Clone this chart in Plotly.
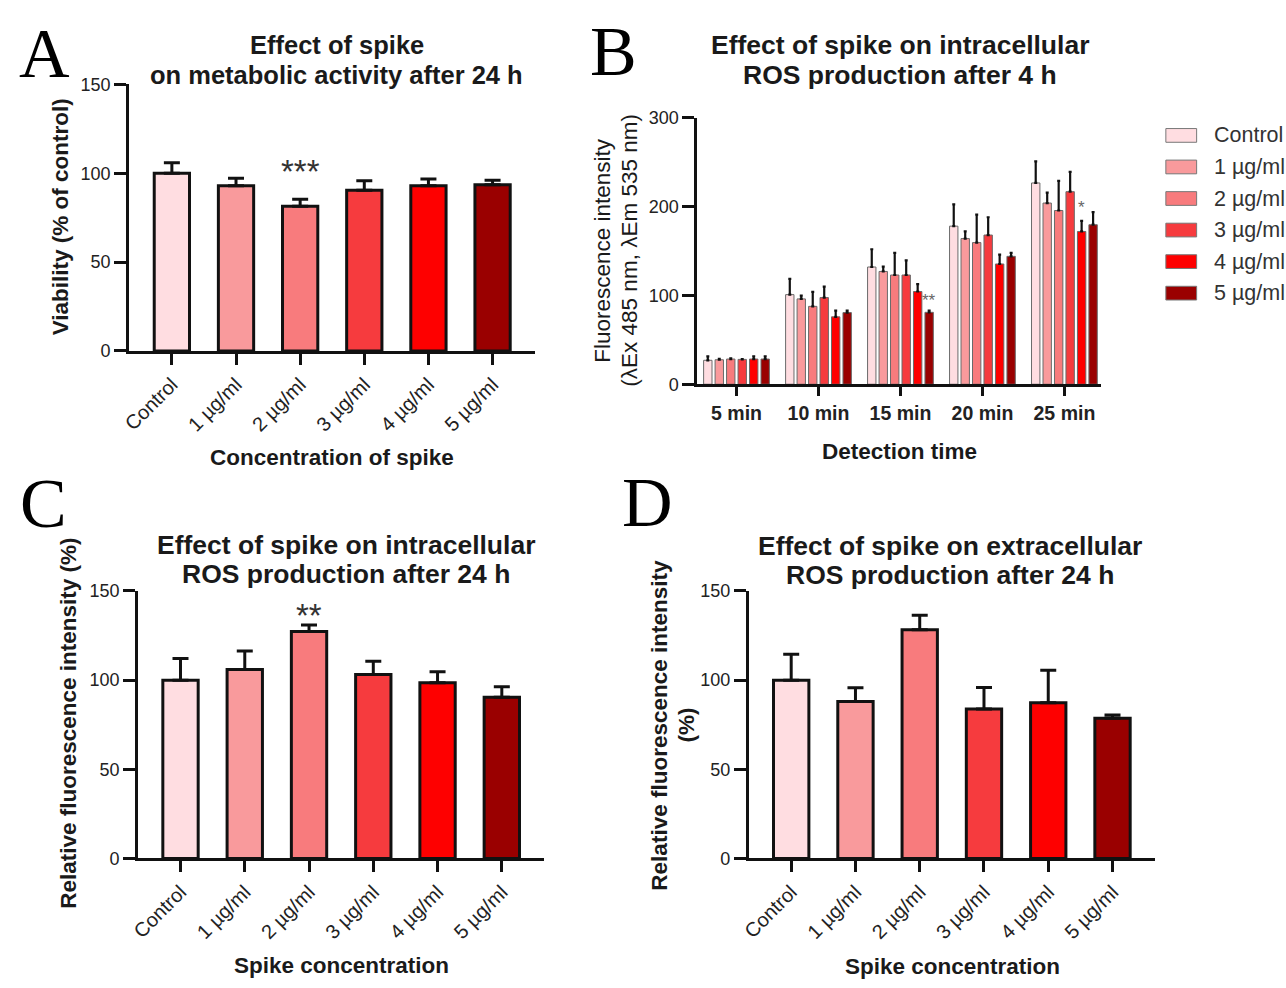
import plotly.graph_objects as go

W, H = 1286, 988

# ---------------- data ----------------
concentrations = ["Control", "1 µg/ml", "2 µg/ml", "3 µg/ml", "4 µg/ml", "5 µg/ml"]
colors = ["#FFDDE1", "#F99A9C", "#F87B7D", "#F63B3E", "#FE0000", "#9A0000"]

# A: viability (% of control)
a_mean = [100, 93, 81.5, 90.5, 93, 93.5]
a_err = [6, 4.2, 3.9, 5.3, 3.8, 2.6]

# B: intracellular ROS after 4 h, by detection time
times = ["5 min", "10 min", "15 min", "20 min", "25 min"]
b_mean = {
    "Control": [27, 100.9, 132, 178, 226.6],
    "1 µg/ml": [27.6, 96.1, 127, 164, 204],
    "2 µg/ml": [28.4, 87.7, 123, 159.5, 195.6],
    "3 µg/ml": [28, 97.6, 123, 168, 216.8],
    "4 µg/ml": [28.4, 75.9, 104.4, 135.4, 172],
    "5 µg/ml": [28.4, 80.7, 81, 144, 179.6],
}
b_err = {
    "Control": [4.4, 17.7, 20, 24.5, 24.4],
    "1 µg/ml": [1.1, 3.7, 5.5, 8, 11.7],
    "2 µg/ml": [0.8, 16.2, 25, 31.5, 33.4],
    "3 µg/ml": [0.4, 12.4, 16.4, 20, 22.2],
    "4 µg/ml": [2.9, 7, 8.4, 10.6, 12],
    "5 µg/ml": [2.9, 2.2, 2, 4, 14.2],
}

# C: intracellular ROS after 24 h (%)
c_mean = [100, 106, 127.3, 103.2, 98.5, 90.4]
c_err = [12.2, 10.4, 3.7, 7.4, 6.2, 5.9]

# D: extracellular ROS after 24 h (%)
d_mean = [100, 88, 128.2, 83.8, 87.3, 78.7]
d_err = [14.5, 7.7, 8.2, 12.1, 18.2, 1.8]

# ---------------- helpers ----------------
def px(x):
    return x / W

def py(y):
    return 1 - y / H

SANS = "Liberation Sans, Arial, sans-serif"
SERIF = "Liberation Serif, Times New Roman, serif"
BARGAP = 0.16
NSER = len(concentrations)

fig = go.Figure()

def single_panel(xa, ya, means, errs):
    fig.add_trace(go.Bar(
        x=concentrations, y=means, xaxis=xa, yaxis=ya,
        width=[0.55] * len(means),
        marker=dict(color=colors, line=dict(color="#111111", width=3)),
        error_y=dict(type="data", symmetric=False, array=errs,
                     arrayminus=[0] * len(errs), thickness=3, width=8,
                     color="#111111"),
        showlegend=False, hoverinfo="x+y",
    ))

single_panel("x", "y", a_mean, a_err)
single_panel("x3", "y3", c_mean, c_err)
single_panel("x4", "y4", d_mean, d_err)

for name, col in zip(concentrations, colors):
    fig.add_trace(go.Bar(
        x=times, y=b_mean[name], name=name, xaxis="x2", yaxis="y2",
        marker=dict(color=col, line=dict(color="#6a6a6a", width=1)),
        error_y=dict(type="data", symmetric=False, array=b_err[name],
                     arrayminus=[0] * len(times), thickness=2.2, width=1.5,
                     color="#111111"),
        showlegend=False,
    ))

axis_common = dict(showline=True, linecolor="#111111", showgrid=False,
                   zeroline=False, ticks="outside", tickcolor="#111111",
                   fixedrange=True)

def xax(l, r, rng, angle, tfont, tl=11):
    return dict(domain=[px(l), px(r)], range=rng, type="category",
                tickangle=angle, linewidth=3, ticklen=tl, tickwidth=3,
                tickfont=tfont, **axis_common)

def yax(t, b, rng, dtick, anchor, lw=3):
    return dict(domain=[py(b), py(t)], range=rng, dtick=dtick, anchor=anchor,
                linewidth=lw, ticklen=12, tickwidth=lw,
                tickfont=dict(family=SANS, size=18, color="#222222"),
                **axis_common)

tick_rot = dict(family=SANS, size=20, color="#222222")
tick_bold = dict(family=SANS, size=19.5, color="#222222", weight="bold")

fig.update_layout(
    width=W, height=H, autosize=False,
    margin=dict(l=0, r=0, t=0, b=0),
    paper_bgcolor="white", plot_bgcolor="white",
    barmode="group", bargap=BARGAP, bargroupgap=0.27,
    xaxis=dict(**xax(121, 530, [-0.666, 5.666], -45, tick_rot), anchor="y"),
    yaxis=yax(76, 348, [0, 150], 50, "x"),
    xaxis2=dict(**xax(693, 1100, [-0.48, 4.45], 0, tick_bold, tl=9), anchor="y2"),
    yaxis2=yax(110, 382, [0, 300], 100, "x2", lw=2.5),
    xaxis3=dict(**xax(130, 539, [-0.66, 5.66], -45, tick_rot), anchor="y3"),
    yaxis3=yax(593, 866, [0, 150], 50, "x3"),
    xaxis4=dict(**xax(745, 1154, [-0.66, 5.66], -45, tick_rot), anchor="y4"),
    yaxis4=yax(593, 866, [0, 150], 50, "x4"),
    showlegend=False,
)

ann = []

def text(x, y, s, size, bold=False, angle=0, family=SANS, color="#1a1a1a",
         xanchor="center"):
    ann.append(dict(x=px(x), y=py(y), xref="paper", yref="paper", text=s,
                    showarrow=False, textangle=angle, xanchor=xanchor,
                    yanchor="middle",
                    font=dict(family=family, size=size, color=color,
                              weight="bold" if bold else "normal")))

# panel letters
text(36, 44, "A", 70, family=SERIF, color="#000")
text(609, 42, "B", 70, family=SERIF, color="#000")
text(35, 504, "C", 70, family=SERIF, color="#000")
text(643, 503, "D", 70, family=SERIF, color="#000")

# panel titles
text(330, 36, "Effect of spike", 25.5, bold=True)
text(330, 66, "on metabolic activity after 24 h", 25.5, bold=True)
text(897, 36, "Effect of spike on intracellular", 26.5, bold=True)
text(897, 66, "ROS production after 4 h", 26.5, bold=True)
text(339, 546, "Effect of spike on intracellular", 26.5, bold=True)
text(339, 576, "ROS production after 24 h", 26.5, bold=True)
text(948, 547, "Effect of spike on extracellular", 26.5, bold=True)
text(948, 577, "ROS production after 24 h", 26.5, bold=True)

# axis titles
text(52, 211, "Viability (% of control)", 22.5, bold=True, angle=-90)
text(325, 457, "Concentration of spike", 22.5, bold=True)
text(597, 245, "Fluorescence intensity", 22.5, angle=-90)
text(624, 245, "(λEx 485 nm, λEm 535 nm)", 22.5, angle=-90)
text(897, 451, "Detection time", 22.5, bold=True)
text(60, 728, "Relative fluorescence intensity (%)", 22.5, bold=True, angle=-90)
text(335, 975, "Spike concentration", 22.5, bold=True)
text(655, 730, "Relative fluorescence intensity", 22.5, bold=True, angle=-90)
text(682, 730, "(%)", 22.5, bold=True, angle=-90)
text(950, 976, "Spike concentration", 22.5, bold=True)

# significance marks
def star(xref, yref, xv, yv, s, size, color="#333333"):
    ann.append(dict(x=xv, y=yv, xref=xref, yref=yref, text=s, showarrow=False,
                    xanchor="center", yanchor="middle",
                    font=dict(family=SANS, size=size, color=color)))

slot = (1 - BARGAP) / NSER
star("x", "y", 2, 101, "***", 33)
star("x3", "y3", 2, 136.5, "**", 33)
star("x2", "y2", 2 + (5 - 2.5) * slot, 94, "**", 17, "#666666")
star("x2", "y2", 4 + (4 - 2.5) * slot, 199, "*", 17, "#666666")

# legend for panel B
shapes = []
for i, (name, col) in enumerate(zip(concentrations, colors)):
    yc = 128 + 32.2 * i
    shapes.append(dict(type="rect", xref="paper", yref="paper",
                       x0=px(1165), x1=px(1196), y0=py(yc + 7), y1=py(yc - 7),
                       fillcolor=col, line=dict(color="#777777", width=1)))
    text(1211, yc, name, 21.5, color="#333333", xanchor="left")

fig.update_layout(annotations=ann, shapes=shapes)
fig.write_html("out.html")
